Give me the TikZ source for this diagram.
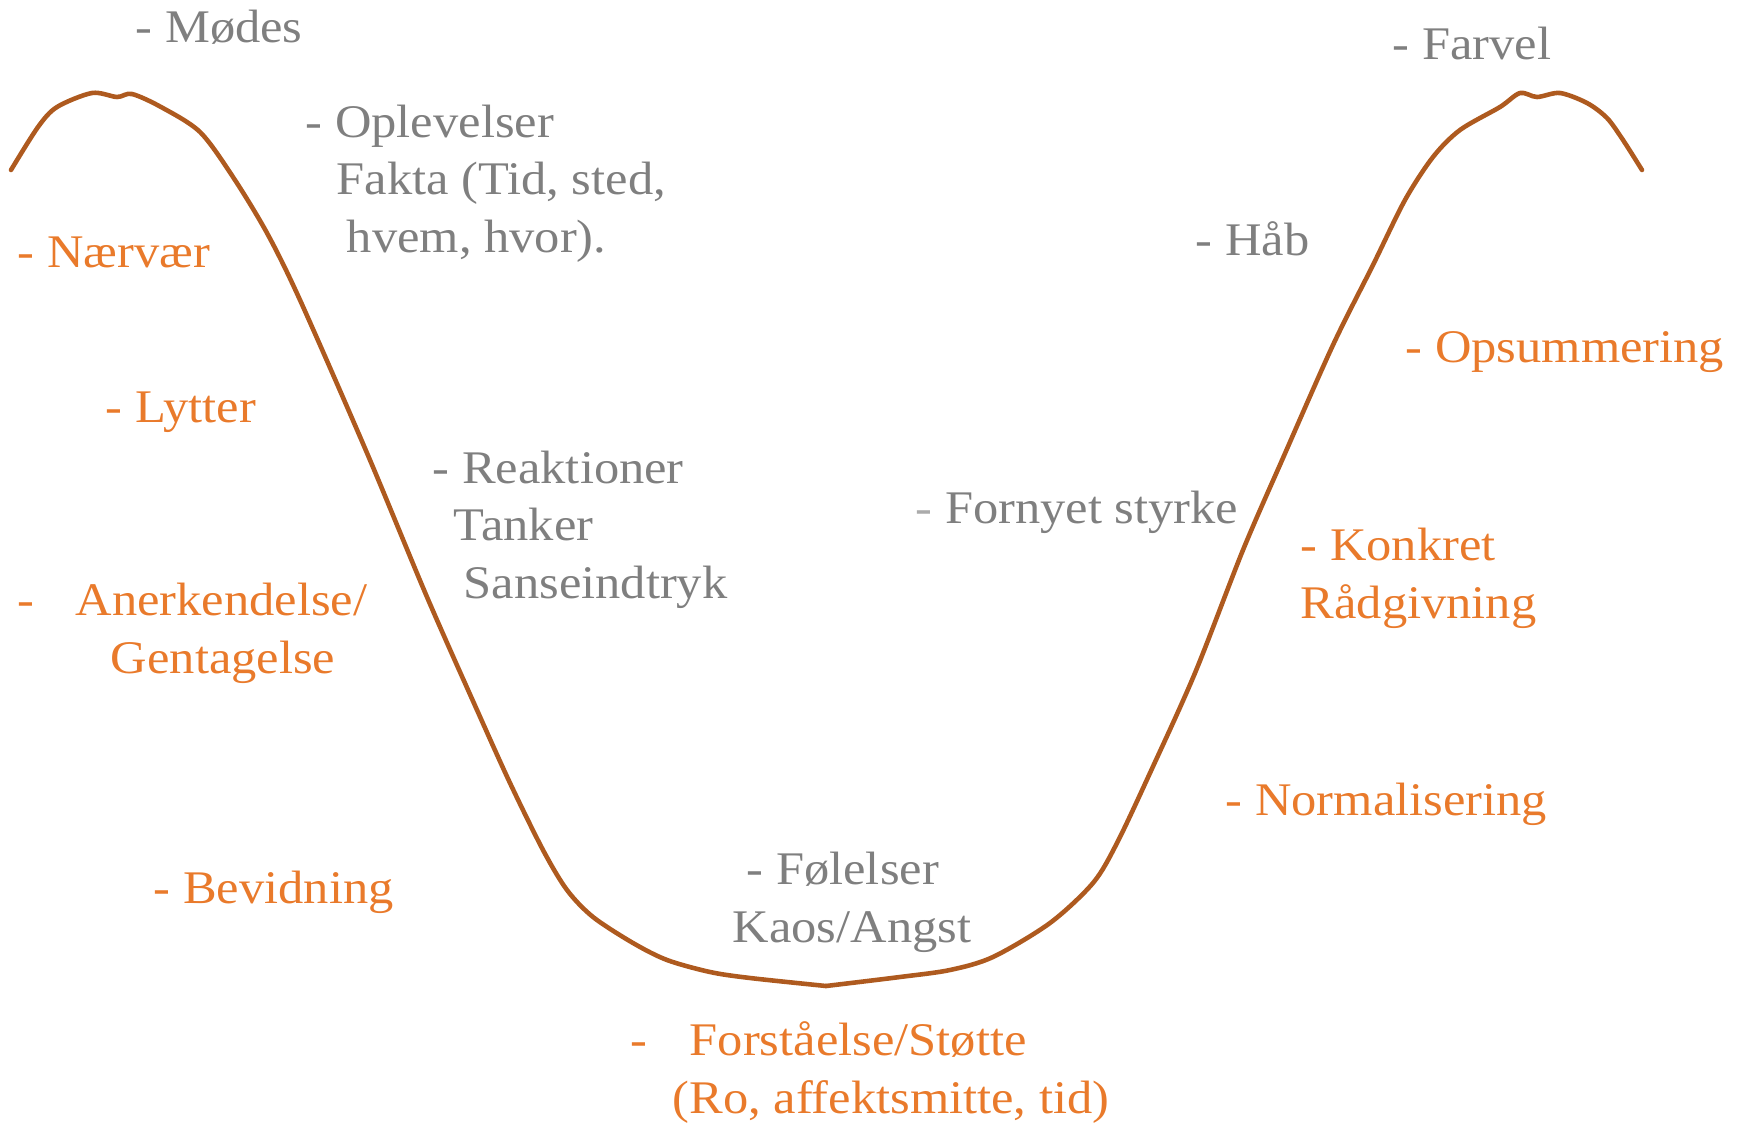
\documentclass[tikz,border=0pt]{standalone}
\usepackage{fontspec}
\setmainfont{Liberation Serif}[FakeStretch=1.08]
\usepackage{xcolor}
\usepackage{tikz}
\usetikzlibrary{positioning}
\definecolor{phasegray}{HTML}{7F7F7F}
\definecolor{dashgray}{HTML}{ABABAB}
\definecolor{helporange}{HTML}{E97A2B}
\definecolor{curvebrown}{HTML}{AE5A1F}
\tikzstyle{phase} = [anchor=base west, inner sep=0pt, align=left, text=phasegray, font=\fontsize{13.3}{16.3}\selectfont]
\tikzstyle{helper} = [phase, text=helporange]
\tikzstyle{curve} = [draw=curvebrown, line width=1.3pt, line join=round, line cap=round]

\begin{document}
\begin{tikzpicture}[x=0.01cm, y=-0.01cm]
\useasboundingbox (0,0) rectangle (1738,1124);

% the curve, down and up again
\draw[curve] plot[smooth, tension=0.5] coordinates {(11,170) (38,127) (57,107) (92,93) (117,97) (132,94) (161,107) (200,132) (233,177) (267,233) (300,300) (367,453) (427,597) (477,710) (510,783) (543,850) (567,890) (593,917) (633,943) (667,960) (710,972) (750,978) (826,986)};
\draw[curve] plot[smooth, tension=0.5] coordinates {(826,986) (900,977) (950,970) (993,957) (1050,923) (1093,883) (1117,843) (1150,773) (1195,673) (1243,550) (1283,458) (1333,345) (1373,265) (1405,200) (1433,157) (1460,130) (1500,107) (1520,93) (1537,97) (1560,93) (1587,103) (1607,118) (1623,140) (1642,170)};

% phases (gray), multi-line nodes sit on their last line
\node[phase] (modes) at (135,43) {- Mødes};
\node[phase] (oplevelser) at (305,252) {- Oplevelser\\\hspace*{8.8pt}Fakta (Tid, sted,\\\hspace*{11.7pt}hvem, hvor).};
\node[phase] (reaktioner) at (432,598) {- Reaktioner\\\hspace*{6pt}Tanker\\\hspace*{8.8pt}Sanseindtryk};
\node[phase] (folelser) at (732,942) {\hspace*{4pt}- Følelser\\Kaos/Angst};
\node[phase] (fornyet) at (915,523) {{\color{dashgray}-} Fornyet styrke};
\node[phase] (haab) at (1195,255) {- Håb};
\node[phase] (farvel) at (1392,60) {- Farvel};

% what helps (orange)
\node[helper] (naervaer) at (17,268) {- Nærvær};
\node[helper] (lytter) at (105,422) {- Lytter};
\node[helper] (anerkendelse) at (17,673) {\makebox[16.5pt][l]{-}Anerkendelse/\\\hspace*{26.5pt}Gentagelse};
\node[helper] (bevidning) at (153,903) {- Bevidning};
\node[helper] (forstaaelse) at (630,1113) {\makebox[16.8pt][l]{-}Forståelse/Støtte\\\hspace*{11.9pt}(Ro, affektsmitte, tid)};
\node[helper] (normalisering) at (1225,815) {- Normalisering};
\node[helper] (konkret) at (1300,618) {- Konkret\\Rådgivning};
\node[helper] (opsummering) at (1405,362) {- Opsummering};
\end{tikzpicture}
\end{document}
